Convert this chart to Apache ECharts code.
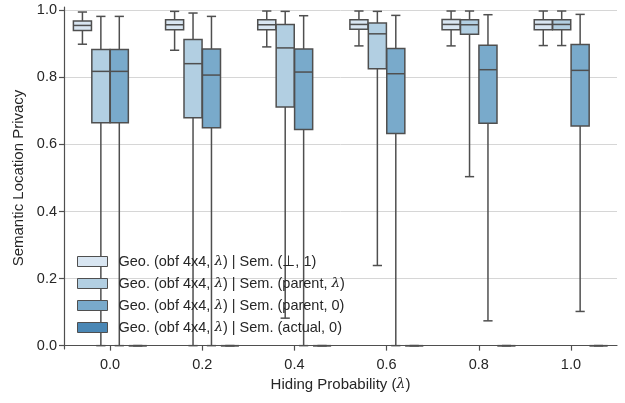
<!DOCTYPE html>
<html>
<head>
<meta charset="utf-8">
<script src="https://cdn.jsdelivr.net/npm/echarts@6/dist/echarts.min.js"></script>
<style>html,body{margin:0;padding:0;background:#fff;}#chart{width:625px;height:403px;}</style>
</head>
<body>
<div id="chart"></div>
<script>
// Categories (hiding probability λ)
const categories = ['0.0', '0.2', '0.4', '0.6', '0.8', '1.0'];
// Series names
const seriesNames = [
  'Geo. (obf 4x4, λ) | Sem. (⊥, 1)',
  'Geo. (obf 4x4, λ) | Sem. (parent, λ)',
  'Geo. (obf 4x4, λ) | Sem. (parent, 0)',
  'Geo. (obf 4x4, λ) | Sem. (actual, 0)'
];
// Each row: [lower whisker, Q1, median, Q3, upper whisker]
const semBottom1 = [
  [0.899, 0.940, 0.955, 0.968, 0.995],
  [0.881, 0.942, 0.957, 0.972, 0.997],
  [0.891, 0.942, 0.957, 0.972, 0.998],
  [0.894, 0.944, 0.958, 0.972, 0.998],
  [0.894, 0.942, 0.958, 0.973, 0.998],
  [0.895, 0.942, 0.958, 0.972, 0.998]
];
const semParentLambda = [
  [0.000, 0.665, 0.818, 0.883, 0.982],
  [0.000, 0.680, 0.841, 0.913, 0.992],
  [0.082, 0.712, 0.888, 0.958, 0.997],
  [0.239, 0.826, 0.930, 0.962, 0.997],
  [0.504, 0.929, 0.957, 0.972, 0.998],
  [0.895, 0.942, 0.958, 0.972, 0.998]
];
const semParent0 = [
  [0.000, 0.665, 0.818, 0.883, 0.982],
  [0.000, 0.650, 0.807, 0.885, 0.982],
  [0.000, 0.645, 0.816, 0.885, 0.984],
  [0.000, 0.633, 0.811, 0.886, 0.985],
  [0.074, 0.663, 0.823, 0.896, 0.987],
  [0.102, 0.655, 0.821, 0.898, 0.988]
];
const semActual0 = [
  [0, 0, 0, 0, 0],
  [0, 0, 0, 0, 0],
  [0, 0, 0, 0, 0],
  [0, 0, 0, 0, 0],
  [0, 0, 0, 0, 0],
  [0, 0, 0, 0, 0]
];
const yTicks = [0, 0.2, 0.4, 0.6, 0.8, 1.0];

const allSeriesData = [semBottom1, semParentLambda, semParent0, semActual0];
const colors = ['#d9e6f2', '#b2cfe2', '#79aacb', '#4a87b5'];
const EDGE = '#4f4f4f';
const FONT = 'Liberation Sans, Arial, sans-serif';

function makeRender(slot, fill) {
  return function (params, api) {
    const ci = api.value(0);
    const band = api.size([1, 0])[0];
    const w = band * 0.8 / 4;
    const cx = api.coord([ci, 0])[0] + (slot - 1.5) * w;
    const ys = [1, 2, 3, 4, 5].map(function (i) { return api.coord([ci, api.value(i)])[1]; });
    const half = w * 0.98 / 2;
    const cap = w / 4;
    const ls = { stroke: EDGE, lineWidth: 1.5 };
    return {
      type: 'group',
      children: [
        { type: 'line', shape: { x1: cx, y1: ys[0], x2: cx, y2: ys[1] }, style: ls },
        { type: 'line', shape: { x1: cx, y1: ys[3], x2: cx, y2: ys[4] }, style: ls },
        { type: 'line', shape: { x1: cx - cap, y1: ys[0], x2: cx + cap, y2: ys[0] }, style: ls },
        { type: 'line', shape: { x1: cx - cap, y1: ys[4], x2: cx + cap, y2: ys[4] }, style: ls },
        { type: 'rect', shape: { x: cx - half, y: ys[3], width: 2 * half, height: ys[1] - ys[3] },
          style: { fill: fill, stroke: EDGE, lineWidth: 1.5 } },
        { type: 'line', shape: { x1: cx - half, y1: ys[2], x2: cx + half, y2: ys[2] }, style: ls }
      ]
    };
  };
}

const series = seriesNames.map(function (name, s) {
  return {
    name: name,
    type: 'custom',
    renderItem: makeRender(s, colors[s]),
    itemStyle: { color: colors[s], borderColor: EDGE, borderWidth: 1.5 },
    encode: { x: 0, y: [1, 2, 3, 4, 5] },
    data: allSeriesData[s].map(function (row, i) { return [i].concat(row); })
  };
});

function lam(str) {
  return str.replace(/λ/g, '{l|λ}');
}

const chart = echarts.init(document.getElementById('chart'), null, { renderer: 'canvas' });
chart.setOption({
  animation: false,
  backgroundColor: '#ffffff',
  textStyle: { fontFamily: FONT },
  grid: { left: 64, right: 8, top: 7, bottom: 54, containLabel: false },
  legend: {
    orient: 'vertical',
    left: 72,
    top: 249,
    itemWidth: 30,
    itemHeight: 10,
    itemGap: 7,
    icon: 'rect',
    data: seriesNames.map(function (n, s) {
      return { name: n, itemStyle: { color: colors[s], borderColor: EDGE, borderWidth: 1 } };
    }),
    formatter: function (n) { return lam(n); },
    textStyle: {
      fontFamily: FONT, fontSize: 14.5, color: '#262626', padding: [0, 0, 0, 6],
      rich: { l: { fontFamily: 'DejaVu Serif', fontStyle: 'italic', fontSize: 13.5, color: '#262626' } }
    }
  },
  xAxis: {
    type: 'category',
    data: categories,
    name: 'Hiding Probability ({l|λ})',
    nameLocation: 'middle',
    nameGap: 28,
    nameTextStyle: {
      fontFamily: FONT, fontSize: 15, color: '#262626',
      rich: { l: { fontFamily: 'DejaVu Serif', fontStyle: 'italic', fontSize: 14, color: '#262626' } }
    },
    axisLine: { show: true, lineStyle: { color: '#4f4f4f', width: 1.2 } },
    axisTick: { show: true, alignWithLabel: true, length: 5, lineStyle: { color: '#4f4f4f', width: 1.2 } },
    axisLabel: { fontFamily: FONT, fontSize: 14.5, color: '#262626', margin: 8 },
    splitLine: { show: false }
  },
  yAxis: {
    type: 'value',
    min: -0.01,
    max: 1.01,
    name: 'Semantic Location Privacy',
    nameLocation: 'middle',
    nameGap: 31,
    nameTextStyle: { fontFamily: FONT, fontSize: 15, color: '#262626' },
    axisLine: { show: true, lineStyle: { color: '#4f4f4f', width: 1.2 } },
    axisTick: { show: true, length: 5, customValues: yTicks, lineStyle: { color: '#4f4f4f', width: 1.2 } },
    axisLabel: {
      fontFamily: FONT, fontSize: 14.5, color: '#262626', margin: 7,
      customValues: yTicks,
      formatter: function (v) { return v.toFixed(1); }
    },
    splitLine: { show: true, lineStyle: { color: '#d6d6d6', width: 1 } }
  },
  series: series
});
</script>
</body>
</html>
